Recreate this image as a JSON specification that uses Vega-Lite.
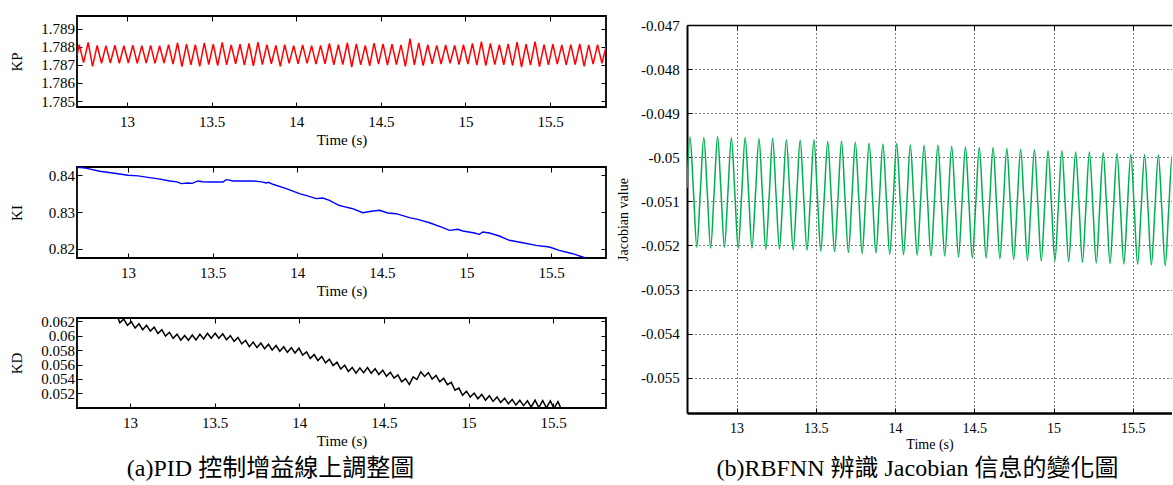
{
"$schema":"https://vega.github.io/schema/vega-lite/v6.json",
"background":"white",
"padding":{"left":8,"top":14,"right":0,"bottom":0},
"autosize":{"type":"pad"},
"config":{
"view":{"stroke":"black","strokeWidth":1.8},
"font":"Liberation Serif",
"axis":{"labelFont":"Liberation Serif","titleFont":"Liberation Serif","labelFontSize":15,"titleFontSize":15,"labelColor":"black","titleColor":"black","titleFontWeight":"normal","domain":false,"ticks":true,"tickColor":"black","tickWidth":1,"tickSize":-5,"grid":false,"labelOverlap":false,"labelFlush":false},
"axisX":{"labelPadding":12,"titlePadding":3},
"axisY":{"labelPadding":7.4,"titleX":-55.5,"titleBaseline":"alphabetic","titleAlign":"center","titleAngle":-90}
},
"datasets":{
"kp":[{"t":12.705,"v":1.7875},{"t":12.718,"v":1.78812},{"t":12.744,"v":1.78712},{"t":12.771,"v":1.78824},{"t":12.797,"v":1.78692},{"t":12.824,"v":1.78808},{"t":12.85,"v":1.78708},{"t":12.876,"v":1.78806},{"t":12.902,"v":1.7871},{"t":12.929,"v":1.78808},{"t":12.955,"v":1.78708},{"t":12.982,"v":1.78806},{"t":13.008,"v":1.7871},{"t":13.035,"v":1.78808},{"t":13.061,"v":1.78708},{"t":13.088,"v":1.78806},{"t":13.114,"v":1.7871},{"t":13.14,"v":1.78808},{"t":13.166,"v":1.78708},{"t":13.193,"v":1.78806},{"t":13.219,"v":1.7871},{"t":13.246,"v":1.78812},{"t":13.272,"v":1.78704},{"t":13.299,"v":1.78822},{"t":13.325,"v":1.7869},{"t":13.352,"v":1.78815},{"t":13.378,"v":1.787},{"t":13.404,"v":1.78812},{"t":13.43,"v":1.78692},{"t":13.457,"v":1.78822},{"t":13.483,"v":1.78702},{"t":13.51,"v":1.78815},{"t":13.536,"v":1.78696},{"t":13.563,"v":1.78824},{"t":13.589,"v":1.787},{"t":13.616,"v":1.7881},{"t":13.642,"v":1.78706},{"t":13.668,"v":1.78814},{"t":13.694,"v":1.78698},{"t":13.721,"v":1.78818},{"t":13.747,"v":1.78694},{"t":13.774,"v":1.78826},{"t":13.8,"v":1.78702},{"t":13.827,"v":1.78812},{"t":13.853,"v":1.78706},{"t":13.88,"v":1.78808},{"t":13.906,"v":1.78692},{"t":13.932,"v":1.78812},{"t":13.958,"v":1.78708},{"t":13.985,"v":1.78806},{"t":14.011,"v":1.78706},{"t":14.038,"v":1.7881},{"t":14.064,"v":1.78708},{"t":14.091,"v":1.78806},{"t":14.117,"v":1.78704},{"t":14.144,"v":1.78808},{"t":14.17,"v":1.78706},{"t":14.196,"v":1.78818},{"t":14.222,"v":1.787},{"t":14.249,"v":1.78812},{"t":14.275,"v":1.78702},{"t":14.302,"v":1.78822},{"t":14.328,"v":1.78688},{"t":14.355,"v":1.78816},{"t":14.381,"v":1.787},{"t":14.408,"v":1.78808},{"t":14.434,"v":1.78694},{"t":14.46,"v":1.7882},{"t":14.486,"v":1.78704},{"t":14.513,"v":1.78816},{"t":14.539,"v":1.78698},{"t":14.566,"v":1.78814},{"t":14.592,"v":1.78702},{"t":14.619,"v":1.7881},{"t":14.645,"v":1.78692},{"t":14.672,"v":1.78845},{"t":14.698,"v":1.787},{"t":14.724,"v":1.78822},{"t":14.75,"v":1.78696},{"t":14.777,"v":1.78812},{"t":14.803,"v":1.78706},{"t":14.83,"v":1.78808},{"t":14.856,"v":1.78704},{"t":14.883,"v":1.7881},{"t":14.909,"v":1.78708},{"t":14.936,"v":1.78808},{"t":14.962,"v":1.78702},{"t":14.988,"v":1.78812},{"t":15.014,"v":1.78704},{"t":15.041,"v":1.78818},{"t":15.067,"v":1.78698},{"t":15.094,"v":1.78828},{"t":15.12,"v":1.78696},{"t":15.147,"v":1.78818},{"t":15.173,"v":1.78702},{"t":15.2,"v":1.78812},{"t":15.226,"v":1.787},{"t":15.252,"v":1.78816},{"t":15.278,"v":1.78696},{"t":15.305,"v":1.78826},{"t":15.331,"v":1.78688},{"t":15.358,"v":1.78814},{"t":15.384,"v":1.78698},{"t":15.411,"v":1.78828},{"t":15.437,"v":1.7869},{"t":15.464,"v":1.78812},{"t":15.49,"v":1.787},{"t":15.516,"v":1.78814},{"t":15.542,"v":1.78704},{"t":15.569,"v":1.7881},{"t":15.595,"v":1.787},{"t":15.622,"v":1.78812},{"t":15.648,"v":1.78702},{"t":15.675,"v":1.78816},{"t":15.701,"v":1.78692},{"t":15.728,"v":1.7881},{"t":15.754,"v":1.78704},{"t":15.78,"v":1.78812},{"t":15.806,"v":1.78708},{"t":15.833,"v":1.7881}],
"ki":[{"t":12.7,"v":0.84215},{"t":12.75,"v":0.84195},{"t":12.833,"v":0.84109},{"t":12.92,"v":0.84055},{"t":13.0,"v":0.84},{"t":13.06,"v":0.83985},{"t":13.128,"v":0.83936},{"t":13.19,"v":0.83895},{"t":13.246,"v":0.83846},{"t":13.29,"v":0.8382},{"t":13.315,"v":0.83773},{"t":13.354,"v":0.83791},{"t":13.38,"v":0.8378},{"t":13.413,"v":0.83846},{"t":13.44,"v":0.83825},{"t":13.482,"v":0.83818},{"t":13.561,"v":0.83818},{"t":13.58,"v":0.83882},{"t":13.6,"v":0.8387},{"t":13.62,"v":0.83846},{"t":13.738,"v":0.83846},{"t":13.79,"v":0.8382},{"t":13.817,"v":0.83791},{"t":13.83,"v":0.8381},{"t":13.856,"v":0.83755},{"t":13.935,"v":0.83637},{"t":14.013,"v":0.835},{"t":14.06,"v":0.8344},{"t":14.112,"v":0.83364},{"t":14.151,"v":0.83382},{"t":14.19,"v":0.83319},{"t":14.246,"v":0.83183},{"t":14.27,"v":0.83155},{"t":14.328,"v":0.8309},{"t":14.387,"v":0.82981},{"t":14.437,"v":0.8302},{"t":14.486,"v":0.83046},{"t":14.535,"v":0.82973},{"t":14.584,"v":0.82954},{"t":14.663,"v":0.82845},{"t":14.712,"v":0.82801},{"t":14.781,"v":0.82708},{"t":14.86,"v":0.82572},{"t":14.899,"v":0.82501},{"t":14.948,"v":0.82529},{"t":14.978,"v":0.82482},{"t":15.047,"v":0.82428},{"t":15.076,"v":0.82392},{"t":15.096,"v":0.82455},{"t":15.135,"v":0.82428},{"t":15.194,"v":0.82346},{"t":15.253,"v":0.82229},{"t":15.332,"v":0.82163},{"t":15.411,"v":0.82092},{"t":15.489,"v":0.82046},{"t":15.548,"v":0.81956},{"t":15.627,"v":0.81864},{"t":15.686,"v":0.81774},{"t":15.715,"v":0.81728},{"t":15.74,"v":0.817}],
"kd":[{"t":12.92,"v":0.063},{"t":12.94,"v":0.06181},{"t":12.963,"v":0.06232},{"t":12.985,"v":0.06144},{"t":13.008,"v":0.06195},{"t":13.03,"v":0.06107},{"t":13.053,"v":0.06166},{"t":13.075,"v":0.06085},{"t":13.098,"v":0.06145},{"t":13.12,"v":0.06065},{"t":13.143,"v":0.0612},{"t":13.165,"v":0.06032},{"t":13.188,"v":0.06084},{"t":13.21,"v":0.05996},{"t":13.233,"v":0.06048},{"t":13.255,"v":0.05964},{"t":13.278,"v":0.06022},{"t":13.3,"v":0.05939},{"t":13.323,"v":0.06005},{"t":13.345,"v":0.05938},{"t":13.368,"v":0.06011},{"t":13.39,"v":0.05943},{"t":13.413,"v":0.06021},{"t":13.435,"v":0.05957},{"t":13.458,"v":0.06034},{"t":13.48,"v":0.05966},{"t":13.503,"v":0.06036},{"t":13.525,"v":0.05966},{"t":13.548,"v":0.06028},{"t":13.57,"v":0.05945},{"t":13.593,"v":0.06002},{"t":13.615,"v":0.05923},{"t":13.638,"v":0.05978},{"t":13.66,"v":0.05887},{"t":13.683,"v":0.05937},{"t":13.705,"v":0.05849},{"t":13.728,"v":0.05912},{"t":13.75,"v":0.05836},{"t":13.773,"v":0.05899},{"t":13.795,"v":0.05821},{"t":13.818,"v":0.05882},{"t":13.84,"v":0.05803},{"t":13.863,"v":0.05864},{"t":13.885,"v":0.05786},{"t":13.908,"v":0.05848},{"t":13.93,"v":0.0577},{"t":13.953,"v":0.05835},{"t":13.975,"v":0.05762},{"t":13.998,"v":0.05828},{"t":14.02,"v":0.05732},{"t":14.043,"v":0.05775},{"t":14.065,"v":0.05683},{"t":14.088,"v":0.0574},{"t":14.11,"v":0.05657},{"t":14.133,"v":0.05713},{"t":14.155,"v":0.05625},{"t":14.178,"v":0.05675},{"t":14.2,"v":0.05585},{"t":14.223,"v":0.05632},{"t":14.245,"v":0.05538},{"t":14.268,"v":0.05591},{"t":14.29,"v":0.05505},{"t":14.313,"v":0.0556},{"t":14.335,"v":0.05481},{"t":14.358,"v":0.05554},{"t":14.38,"v":0.05486},{"t":14.403,"v":0.05559},{"t":14.425,"v":0.05481},{"t":14.448,"v":0.05542},{"t":14.47,"v":0.05463},{"t":14.493,"v":0.05522},{"t":14.515,"v":0.05439},{"t":14.538,"v":0.05495},{"t":14.56,"v":0.05412},{"t":14.583,"v":0.05457},{"t":14.605,"v":0.05361},{"t":14.628,"v":0.05405},{"t":14.65,"v":0.05323},{"t":14.673,"v":0.0543},{"t":14.695,"v":0.05393},{"t":14.718,"v":0.055},{"t":14.74,"v":0.05435},{"t":14.763,"v":0.05487},{"t":14.785,"v":0.05398},{"t":14.808,"v":0.05449},{"t":14.83,"v":0.0536},{"t":14.853,"v":0.0541},{"t":14.875,"v":0.0532},{"t":14.898,"v":0.05353},{"t":14.92,"v":0.05244},{"t":14.943,"v":0.05274},{"t":14.965,"v":0.05174},{"t":14.988,"v":0.05231},{"t":15.01,"v":0.05148},{"t":15.033,"v":0.05204},{"t":15.055,"v":0.05125},{"t":15.078,"v":0.05185},{"t":15.1,"v":0.05106},{"t":15.123,"v":0.05167},{"t":15.145,"v":0.05089},{"t":15.168,"v":0.05151},{"t":15.19,"v":0.05073},{"t":15.213,"v":0.05134},{"t":15.235,"v":0.05055},{"t":15.258,"v":0.05115},{"t":15.28,"v":0.05038},{"t":15.303,"v":0.05104},{"t":15.325,"v":0.0503},{"t":15.348,"v":0.05096},{"t":15.37,"v":0.05008},{"t":15.393,"v":0.05106},{"t":15.415,"v":0.05004},{"t":15.438,"v":0.05101},{"t":15.46,"v":0.04998},{"t":15.483,"v":0.05096},{"t":15.505,"v":0.04993},{"t":15.528,"v":0.05085},{"t":15.55,"v":0.0497}],
"jac":[{"t":12.687,"v":-0.0507},{"t":12.706,"v":-0.04954},{"t":12.728,"v":-0.05079},{"t":12.749,"v":-0.05204},{"t":12.771,"v":-0.05079},{"t":12.793,"v":-0.04955},{"t":12.815,"v":-0.05081},{"t":12.836,"v":-0.05206},{"t":12.858,"v":-0.05081},{"t":12.88,"v":-0.04953},{"t":12.902,"v":-0.05081},{"t":12.923,"v":-0.05204},{"t":12.945,"v":-0.05081},{"t":12.967,"v":-0.04956},{"t":12.989,"v":-0.05083},{"t":13.01,"v":-0.05207},{"t":13.032,"v":-0.05083},{"t":13.054,"v":-0.04955},{"t":13.076,"v":-0.05084},{"t":13.097,"v":-0.05206},{"t":13.119,"v":-0.05084},{"t":13.141,"v":-0.04958},{"t":13.163,"v":-0.05085},{"t":13.184,"v":-0.05209},{"t":13.206,"v":-0.05085},{"t":13.227,"v":-0.04957},{"t":13.249,"v":-0.05086},{"t":13.27,"v":-0.05208},{"t":13.292,"v":-0.05086},{"t":13.314,"v":-0.0496},{"t":13.336,"v":-0.05088},{"t":13.357,"v":-0.0521},{"t":13.379,"v":-0.05088},{"t":13.401,"v":-0.04961},{"t":13.423,"v":-0.05089},{"t":13.444,"v":-0.05211},{"t":13.466,"v":-0.05089},{"t":13.488,"v":-0.0496},{"t":13.51,"v":-0.0509},{"t":13.531,"v":-0.05213},{"t":13.553,"v":-0.0509},{"t":13.575,"v":-0.04964},{"t":13.597,"v":-0.05091},{"t":13.618,"v":-0.05214},{"t":13.64,"v":-0.05091},{"t":13.662,"v":-0.04963},{"t":13.684,"v":-0.05093},{"t":13.705,"v":-0.05216},{"t":13.727,"v":-0.05093},{"t":13.749,"v":-0.04966},{"t":13.771,"v":-0.05094},{"t":13.792,"v":-0.05218},{"t":13.814,"v":-0.05094},{"t":13.836,"v":-0.04968},{"t":13.858,"v":-0.05095},{"t":13.879,"v":-0.05217},{"t":13.901,"v":-0.05095},{"t":13.923,"v":-0.0497},{"t":13.945,"v":-0.05096},{"t":13.966,"v":-0.0522},{"t":13.988,"v":-0.05096},{"t":14.01,"v":-0.04969},{"t":14.032,"v":-0.05097},{"t":14.053,"v":-0.05221},{"t":14.075,"v":-0.05097},{"t":14.096,"v":-0.04972},{"t":14.118,"v":-0.05099},{"t":14.139,"v":-0.05222},{"t":14.161,"v":-0.05099},{"t":14.183,"v":-0.04973},{"t":14.205,"v":-0.051},{"t":14.226,"v":-0.05224},{"t":14.248,"v":-0.051},{"t":14.27,"v":-0.04972},{"t":14.292,"v":-0.05101},{"t":14.313,"v":-0.05224},{"t":14.335,"v":-0.05101},{"t":14.357,"v":-0.04975},{"t":14.379,"v":-0.05102},{"t":14.4,"v":-0.05226},{"t":14.422,"v":-0.05102},{"t":14.444,"v":-0.04976},{"t":14.466,"v":-0.05104},{"t":14.487,"v":-0.05228},{"t":14.509,"v":-0.05104},{"t":14.531,"v":-0.04978},{"t":14.553,"v":-0.05105},{"t":14.574,"v":-0.05228},{"t":14.596,"v":-0.05105},{"t":14.618,"v":-0.04978},{"t":14.64,"v":-0.05106},{"t":14.661,"v":-0.0523},{"t":14.683,"v":-0.05106},{"t":14.705,"v":-0.0498},{"t":14.727,"v":-0.05107},{"t":14.748,"v":-0.05232},{"t":14.77,"v":-0.05107},{"t":14.792,"v":-0.04982},{"t":14.814,"v":-0.05108},{"t":14.835,"v":-0.05234},{"t":14.857,"v":-0.05108},{"t":14.879,"v":-0.04983},{"t":14.901,"v":-0.05109},{"t":14.922,"v":-0.05235},{"t":14.944,"v":-0.05109},{"t":14.965,"v":-0.04985},{"t":14.987,"v":-0.05111},{"t":15.008,"v":-0.05235},{"t":15.03,"v":-0.05111},{"t":15.052,"v":-0.04985},{"t":15.074,"v":-0.05112},{"t":15.095,"v":-0.05237},{"t":15.117,"v":-0.05112},{"t":15.139,"v":-0.04988},{"t":15.161,"v":-0.05113},{"t":15.182,"v":-0.05238},{"t":15.204,"v":-0.05113},{"t":15.226,"v":-0.04988},{"t":15.248,"v":-0.05114},{"t":15.269,"v":-0.0524},{"t":15.291,"v":-0.05114},{"t":15.313,"v":-0.0499},{"t":15.335,"v":-0.05116},{"t":15.356,"v":-0.05241},{"t":15.378,"v":-0.05116},{"t":15.4,"v":-0.04992},{"t":15.422,"v":-0.05117},{"t":15.443,"v":-0.05242},{"t":15.465,"v":-0.05117},{"t":15.487,"v":-0.04993},{"t":15.509,"v":-0.05118},{"t":15.53,"v":-0.05243},{"t":15.552,"v":-0.05118},{"t":15.574,"v":-0.04994},{"t":15.596,"v":-0.05119},{"t":15.617,"v":-0.05244},{"t":15.639,"v":-0.05119},{"t":15.661,"v":-0.04995},{"t":15.683,"v":-0.0512},{"t":15.704,"v":-0.05246},{"t":15.726,"v":-0.0512},{"t":15.748,"v":-0.04997},{"t":15.77,"v":-0.05122},{"t":15.791,"v":-0.05247}]
},
"hconcat":[
{"vconcat":[
{"width":529,"height":91,"data":{"name":"kp"},
"layer":[
{"mark":{"type":"line","color":"#ff0000","strokeWidth":1.5,"clip":true},
"encoding":{
"x":{"field":"t","type":"quantitative","scale":{"domain":[12.705,15.83],"nice":false,"zero":false},"axis":{"title":"Time (s)","values":[13,13.5,14,14.5,15,15.5],"format":"~g"}},
"y":{"field":"v","type":"quantitative","scale":{"domain":[1.78467,1.7897],"nice":false,"zero":false},"axis":{"title":"KP","titleY":45.5,"values":[1.785,1.786,1.787,1.788,1.789],"format":"~g"}}}},
{"mark":{"type":"line","opacity":0,"clip":true},
"encoding":{
"x":{"field":"t","type":"quantitative","axis":{"orient":"top","values":[13,13.5,14,14.5,15,15.5],"labels":false,"title":null}},
"y":{"field":"v","type":"quantitative","axis":{"orient":"right","values":[1.785,1.786,1.787,1.788,1.789],"labels":false,"title":null}}}}
],
"resolve":{"axis":{"x":"independent","y":"independent"}}},
{"width":529,"height":91,"data":{"name":"ki"},
"layer":[
{"mark":{"type":"line","color":"#0000ff","strokeWidth":1.4,"clip":true},
"encoding":{
"x":{"field":"t","type":"quantitative","scale":{"domain":[12.699,15.824],"nice":false,"zero":false},"axis":{"title":"Time (s)","values":[13,13.5,14,14.5,15,15.5],"format":"~g"}},
"y":{"field":"v","type":"quantitative","scale":{"domain":[0.81747,0.84226],"nice":false,"zero":false},"axis":{"title":"KI","titleY":45.5,"values":[0.82,0.83,0.84],"format":"~g"}}}},
{"mark":{"type":"line","opacity":0,"clip":true},
"encoding":{
"x":{"field":"t","type":"quantitative","axis":{"orient":"top","values":[13,13.5,14,14.5,15,15.5],"labels":false,"title":null}},
"y":{"field":"v","type":"quantitative","axis":{"orient":"right","values":[0.82,0.83,0.84],"labels":false,"title":null}}}}
],
"resolve":{"axis":{"x":"independent","y":"independent"}}},
{"width":529,"height":90,"data":{"name":"kd"},
"title":{"text":"(a)PID 控制增益線上調整圖","orient":"bottom","anchor":"middle","frame":"group","offset":9,"dx":-71,"fontSize":24,"font":"Liberation Serif, Noto Sans CJK TC","fontWeight":"normal","color":"black","baseline":"top"},
"layer":[
{"mark":{"type":"line","color":"#000000","strokeWidth":1.5,"clip":true},
"encoding":{
"x":{"field":"t","type":"quantitative","scale":{"domain":[12.687,15.812],"nice":false,"zero":false},"axis":{"title":"Time (s)","values":[13,13.5,14,14.5,15,15.5],"format":"~g"}},
"y":{"field":"v","type":"quantitative","scale":{"domain":[0.04997,0.06247],"nice":false,"zero":false},"axis":{"title":"KD","titleY":45,"values":[0.052,0.054,0.056,0.058,0.06,0.062],"format":"~g"}}}},
{"mark":{"type":"line","opacity":0,"clip":true},
"encoding":{
"x":{"field":"t","type":"quantitative","axis":{"orient":"top","values":[13,13.5,14,14.5,15,15.5],"labels":false,"title":null}},
"y":{"field":"v","type":"quantitative","axis":{"orient":"right","values":[0.052,0.054,0.056,0.058,0.06,0.062],"labels":false,"title":null}}}}
],
"resolve":{"axis":{"x":"independent","y":"independent"}}}
],
"spacing":60,"bounds":"flush"
},
{"vconcat":[
{"width":485,"height":1,"data":{"values":[]},"mark":{"type":"point"},"view":{"stroke":null}},
{"width":485,"height":388,"data":{"name":"jac"},"view":{"stroke":null},
"title":{"text":"(b)RBFNN 辨識 Jacobian 信息的變化圖","orient":"bottom","anchor":"middle","frame":"group","offset":6,"dx":-12,"fontSize":24,"font":"Liberation Serif, Noto Sans CJK TC","fontWeight":"normal","color":"black","baseline":"top"},
"layer":[
{"mark":{"type":"line","color":"#00b050","strokeWidth":1.5,"clip":true,"interpolate":"monotone"},
"encoding":{
"x":{"field":"t","type":"quantitative","scale":{"domain":[12.687,15.747],"nice":false,"zero":false},"axis":{"title":"Time (s)","values":[13,13.5,14,14.5,15,15.5],"format":"~g","labelFontSize":14,"titleFontSize":14,"labelPadding":13,"titlePadding":2,"domain":true,"domainColor":"black","domainWidth":2.5,"grid":true,"gridColor":"black","gridDash":[1,3],"gridWidth":1,"gridOpacity":1}},
"y":{"field":"v","type":"quantitative","scale":{"domain":[-0.0558,-0.047],"nice":false,"zero":false},"axis":{"title":"Jacobian value","titleX":-60,"titleY":194,"titleFontSize":14,"labelFontSize":15,"labelPadding":12.7,"values":[-0.055,-0.054,-0.053,-0.052,-0.051,-0.05,-0.049,-0.048,-0.047],"format":"~g","labelExpr":"replace(datum.label, '−', '-')","domain":true,"domainColor":"black","domainWidth":2,"grid":true,"gridColor":"black","gridDash":[1,3],"gridWidth":1,"gridOpacity":1}}}},
{"mark":{"type":"line","opacity":0,"clip":true},
"encoding":{
"x":{"field":"t","type":"quantitative","axis":{"orient":"top","values":[13,13.5,14,14.5,15,15.5],"labels":false,"title":null,"domain":true,"domainColor":"black","domainWidth":1.5}},
"y":{"field":"v","type":"quantitative","axis":null}}}
],
"resolve":{"axis":{"x":"independent","y":"independent"}}}
],
"spacing":8,"bounds":"flush"}
],
"spacing":8
}
